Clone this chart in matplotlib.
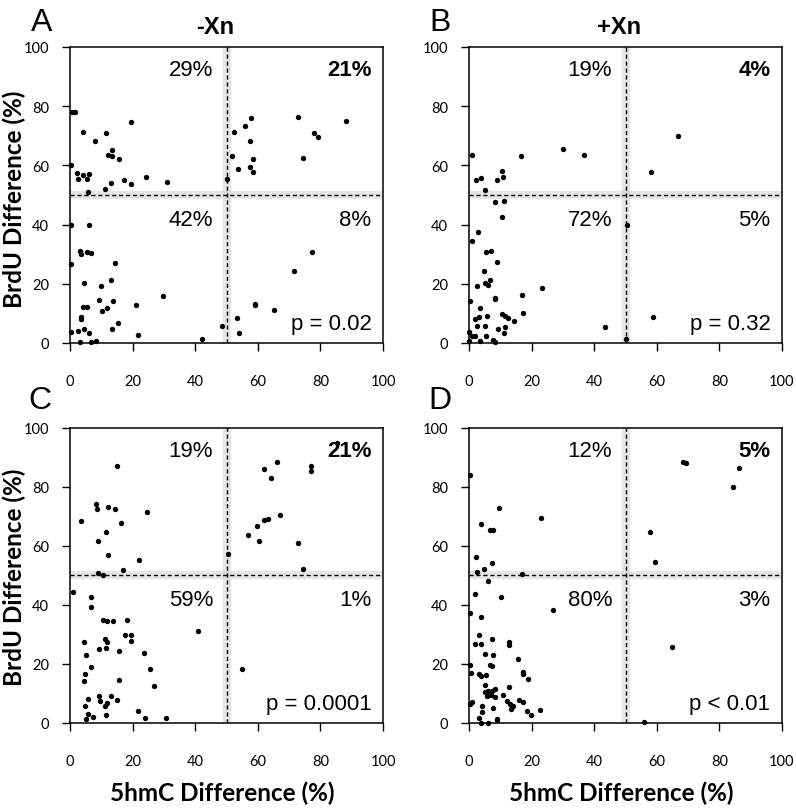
import matplotlib
matplotlib.use("Agg")
import matplotlib.pyplot as plt
import numpy as np

# ---------------- data ----------------
# Panel A (-Xn, top)
a_x = [0.5, 1.6, 19.5, 4.0, 11.4, 7.9, 13.3, 12.0, 13.3, 15.5, 0.2, 2.3, 4.0, 6.2, 2.6, 5.5, 17.3,
       24.3, 19.5, 13.1, 30.9, 11.2, 5.6, 50.0,
       52.3, 55.9, 57.9, 57.4, 51.9, 53.6, 58.5, 57.6, 58.5, 72.7, 77.8, 79.1, 74.3, 88.2,
       0.3, 6.2, 0.3, 3.2, 3.4, 5.5, 6.8, 14.4, 4.6, 9.8, 13.1, 29.6, 9.3, 13.7, 4.0, 5.5, 11.9,
       10.1, 21.1, 3.4, 3.5, 15.4, 0.2, 2.6, 4.5, 6.0, 13.3, 21.8, 48.7, 42.1, 3.2, 6.6, 8.2,
       77.3, 71.5, 59.0, 59.0, 65.2, 53.4, 53.9]
a_y = [78.1, 78.1, 74.5, 71.3, 71.0, 68.2, 65.1, 63.4, 63.2, 62.0, 60.3, 57.6, 56.7, 57.1, 55.3, 55.5, 55.2,
       56.0, 53.7, 54.0, 54.4, 52.1, 50.9, 55.3,
       71.4, 73.4, 76.1, 68.3, 63.1, 58.9, 62.0, 59.6, 57.9, 76.3, 70.9, 69.5, 62.5, 74.9,
       39.8, 39.8, 26.6, 31.0, 29.9, 30.8, 30.5, 27.0, 20.3, 19.4, 21.2, 16.0, 14.4, 14.3, 12.2, 12.2, 11.9,
       10.7, 12.8, 8.9, 8.2, 6.9, 3.6, 4.1, 4.8, 3.4, 4.6, 2.7, 5.6, 1.2, 0.5, 0.5, 0.8,
       30.9, 24.3, 13.3, 12.7, 11.0, 8.5, 3.5]

# Panel B (+Xn, top)
b_x = [1.1, 2.1, 3.7, 5.2, 8.9, 10.4, 10.9, 16.6, 30.0, 36.9,
       58.1, 66.8,
       8.4, 11.2, 10.4, 2.8, 0.9, 5.5, 7.1, 8.9, 4.7, 2.4, 5.0, 6.1, 6.8, 0.2, 8.4, 8.4, 16.8, 23.4,
       3.5, 1.9, 3.2, 5.7, 10.4, 11.4, 12.4, 14.4, 17.2, 2.7, 5.0, 9.3, 11.6, 11.2, 5.3, 0.1, 0.9,
       1.8, 0.0, 3.4, 7.6, 8.4, 43.5, 50.5, 50.2,
       58.7]
b_y = [63.5, 55.2, 55.9, 51.6, 55.2, 58.1, 56.1, 63.2, 65.7, 63.5,
       57.9, 69.9,
       47.5, 48.0, 42.5, 37.5, 34.4, 30.8, 31.0, 27.5, 24.2, 19.3, 20.3, 19.7, 21.3, 14.3, 15.2, 14.9, 16.3, 18.5,
       11.8, 8.1, 8.7, 9.1, 9.9, 9.0, 8.6, 7.5, 10.3, 5.7, 5.7, 4.6, 5.4, 3.3, 2.5, 3.6, 2.5,
       2.5, 0.7, 0.7, 1.1, 0.3, 5.5, 39.8, 1.4,
       8.7]

# Panel C (-Xn, bottom)
c_x = [15.1, 8.3, 8.7, 12.3, 14.3, 24.7, 3.5, 16.2, 11.4, 8.9, 12.0, 22.0, 16.8, 8.8, 10.6,
       66.1, 61.9, 64.1, 77.0, 77.0, 61.9, 63.4, 67.0, 59.8, 56.8, 60.4, 72.8, 74.6, 50.5, 85.4,
       1.1, 6.6, 6.8, 10.4, 11.7, 13.6, 18.1, 40.9, 17.6, 19.5, 19.5, 4.6, 11.1, 11.8, 9.3, 11.4,
       15.7, 23.5, 5.2, 6.7, 25.4, 4.9, 4.4, 15.7, 26.7, 5.6, 9.4, 9.6, 13.0, 11.7, 11.3, 14.9,
       4.8, 5.9, 7.3, 5.2, 11.6, 21.6, 24.1, 30.6,
       54.8]
c_y = [86.9, 74.3, 72.3, 73.1, 72.6, 71.5, 68.5, 67.8, 64.8, 61.7, 57.0, 55.1, 51.8, 50.8, 50.0,
       88.2, 85.9, 83.0, 87.0, 85.3, 68.7, 69.1, 70.5, 66.6, 63.5, 61.7, 60.8, 52.1, 57.2, 94.8,
       44.2, 42.6, 39.4, 35.0, 34.5, 34.4, 35.0, 31.3, 29.7, 29.9, 27.9, 27.4, 28.6, 27.4, 25.0, 25.4,
       24.3, 23.7, 23.0, 18.8, 18.3, 16.5, 14.2, 14.5, 12.4, 8.2, 9.0, 7.3, 9.1, 6.8, 5.6, 7.9,
       5.9, 2.9, 2.1, 1.2, 2.6, 4.1, 1.6, 1.6,
       18.3]

# Panel D (+Xn, bottom)
d_x = [0.4, 9.5, 23.1, 3.7, 6.7, 7.8, 2.2, 7.4, 4.9, 2.4, 17.0,
       68.4, 69.3, 86.2, 84.5, 57.8, 59.3,
       6.1, 1.8, 10.3, 26.7, 0.4, 3.9, 3.1, 1.9, 3.9, 7.2, 12.8, 12.7, 5.0, 7.7, 15.5, 6.8, 7.3,
       0.2, 0.6, 3.1, 3.9, 5.3, 17.2, 17.2, 18.8, 5.0, 5.2, 6.2, 7.2, 8.4, 5.9, 7.0, 8.2, 10.9,
       12.7, 12.0, 13.0, 13.3, 14.0, 16.1, 17.4, 7.8, 4.3, 0.2, 1.0, 18.5, 19.7, 22.6, 4.0, 3.1,
       3.9, 6.2, 8.8, 9.0,
       64.7, 56.0]
d_y = [84.1, 72.9, 69.3, 67.3, 65.2, 65.2, 56.1, 54.3, 52.3, 51.0, 50.3,
       88.2, 87.9, 86.4, 79.9, 64.7, 54.4,
       48.0, 43.8, 42.5, 38.2, 37.2, 35.9, 29.7, 26.9, 26.6, 28.3, 27.5, 26.4, 23.4, 22.9, 21.6, 19.6, 19.4,
       19.7, 16.9, 16.6, 15.8, 16.1, 17.2, 16.5, 14.8, 12.7, 10.6, 10.7, 10.9, 11.4, 9.0, 9.6, 8.7, 9.5,
       12.2, 7.3, 6.4, 4.7, 5.7, 7.7, 7.2, 5.1, 5.9, 6.4, 7.0, 4.2, 2.8, 4.5, 3.8, 1.6,
       0.1, 0.0, 1.4, 1.1,
       25.7, 0.5]

a_pct = ["29%", "21%", "42%", "8%"]
b_pct = ["19%", "4%", "72%", "5%"]
c_pct = ["19%", "21%", "59%", "1%"]
d_pct = ["12%", "5%", "80%", "3%"]
p_texts = ["p = 0.02", "p = 0.32", "p = 0.0001", "p < 0.01"]
panel_letters = ["A", "B", "C", "D"]
col_titles = ["-Xn", "+Xn"]
ticks = [0, 20, 40, 60, 80, 100]
threshold = 50

TICKFONT = "Lato"
ARIAL = "Liberation Sans"

W, H = 796, 812
fig = plt.figure(figsize=(W / 100, H / 100), dpi=100)

def box(left, top, right, bottom):
    return [left / W, 1 - bottom / H, (right - left) / W, (bottom - top) / H]

positions = [box(70, 48, 383, 344), box(469, 48, 782, 344),
             box(70, 428.6, 383, 724), box(469, 428.6, 782, 724)]
datasets = [(a_x, a_y, a_pct), (b_x, b_y, b_pct), (c_x, c_y, c_pct), (d_x, d_y, d_pct)]

for i, (pos, (xs, ys, pct)) in enumerate(zip(positions, datasets)):
    ax = fig.add_axes(pos)
    ax.set_xlim(0, 100)
    ax.set_ylim(0, 100)
    ax.set_xticks(ticks)
    ax.set_yticks(ticks)
    ax.tick_params(direction="out", length=6, width=1, color="black")
    ax.tick_params(axis="x", pad=16)
    ax.tick_params(axis="y", pad=9)
    for lab in ax.get_xticklabels() + ax.get_yticklabels():
        lab.set_fontfamily(TICKFONT)
        lab.set_fontsize(10.5)
    for sp in ax.spines.values():
        sp.set_linewidth(1.1)
        sp.set_color("black")
    # shadowed dashed threshold lines
    ax.axvline(threshold, color="#cfcfcf", lw=6, alpha=0.5, zorder=1)
    ax.axhline(threshold, color="#cfcfcf", lw=6, alpha=0.5, zorder=1)
    ax.axvline(threshold, color="black", lw=1.0, ls=(0, (3, 2)), zorder=2)
    ax.axhline(threshold, color="black", lw=1.0, ls=(0, (3, 2)), zorder=2)
    # quadrant percentages
    ax.text(45.7, 92.4, pct[0], ha="right", va="center", fontsize=16, family=ARIAL, zorder=3)
    ax.text(96.3, 92.4, pct[1], ha="right", va="center", fontsize=16, family=ARIAL,
            fontweight="bold", zorder=3)
    ax.text(45.7, 41.8, pct[2], ha="right", va="center", fontsize=16, family=ARIAL, zorder=3)
    ax.text(96.3, 41.8, pct[3], ha="right", va="center", fontsize=16, family=ARIAL, zorder=3)
    ax.text(96.3, 6.6, p_texts[i], ha="right", va="center", fontsize=16, family=ARIAL, zorder=3)
    ax.scatter(xs, ys, s=15, color="black", zorder=5, clip_on=False, linewidths=0)
    # panel letter
    lx = [42, 440, 40, 440][i]
    ly = [23, 23, 401, 401][i]
    fig.text(lx / W, 1 - ly / H, panel_letters[i], fontsize=23, family=ARIAL,
             ha="center", va="center")

# column titles
fig.text(215 / W, 1 - 28 / H, col_titles[0], fontsize=17, family=ARIAL, fontweight="bold",
         ha="center", va="center")
fig.text(619 / W, 1 - 28 / H, col_titles[1], fontsize=17, family=ARIAL, fontweight="bold",
         ha="center", va="center")

# axis labels
for cx in (222, 621):
    fig.text(cx / W, 1 - 793 / H, "5hmC Difference (%)", fontsize=17.5, family=TICKFONT,
             fontweight="bold", ha="center", va="center")
for cy in (199, 577):
    fig.text(14 / W, 1 - cy / H, "BrdU Difference (%)", fontsize=17.5, family=TICKFONT,
             fontweight="bold", ha="center", va="center", rotation=90)

fig.savefig("out.png", dpi=100)
